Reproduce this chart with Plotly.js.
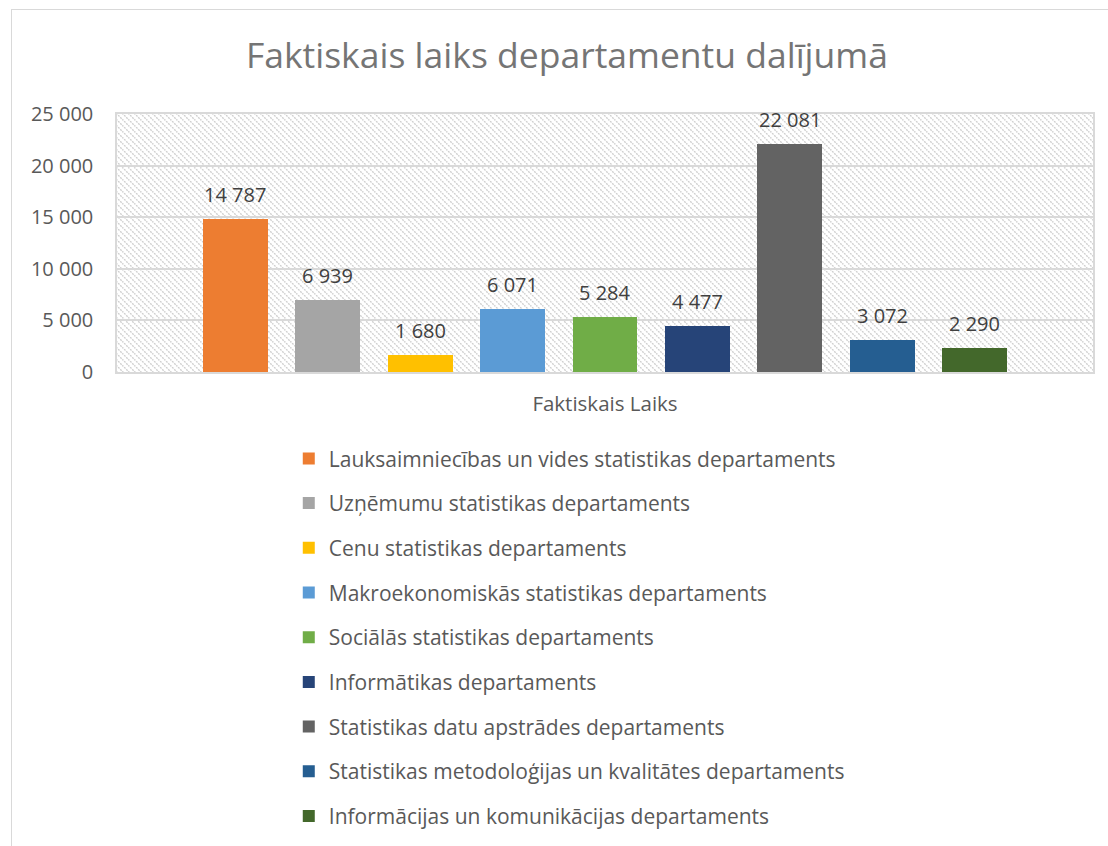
<!DOCTYPE html>
<html>
<head>
<meta charset="utf-8">
<script src="https://cdn.plot.ly/plotly-3.0.1.min.js"></script>
<style>
  html, body { margin: 0; padding: 0; background: #ffffff; }
  #wrap { position: relative; width: 1108px; height: 846px; overflow: hidden; }
  #chart { position: absolute; left: 0; top: 0; width: 1108px; height: 846px; }
  #frame { position: absolute; left: 11px; top: 9px; width: 1108px; height: 846px;
           border-left: 1.5px solid #d9d9d9; border-top: 1.5px solid #d9d9d9; pointer-events: none; }
</style>
</head>
<body>
<div id="wrap">
  <div id="chart"></div>
  <div id="frame"></div>
</div>
<script>
const departments = [
  "Lauksaimniecības un vides statistikas departaments",
  "Uzņēmumu statistikas departaments",
  "Cenu statistikas departaments",
  "Makroekonomiskās statistikas departaments",
  "Sociālās statistikas departaments",
  "Informātikas departaments",
  "Statistikas datu apstrādes departaments",
  "Statistikas metodoloģijas un kvalitātes departaments",
  "Informācijas un komunikācijas departaments"
];
const hours = [14787, 6939, 1680, 6071, 5284, 4477, 22081, 3072, 2290];
const colors = ["#ED7D31", "#A5A5A5", "#FFC000", "#5B9BD5", "#70AD47", "#264478", "#636363", "#255E91", "#43682B"];
const yTicks = [0, 5000, 10000, 15000, 20000, 25000];
const yTickLabels = ["0", "5 000", "10 000", "15 000", "20 000", "25 000"];
const axisLabel = "Faktiskais Laiks";
const chartTitle = "Faktiskais laiks departamentu dalījumā";

function fmt(v) { return String(v).replace(/\B(?=(\d{3})+(?!\d))/g, " "); }

const FONT = "'Open Sans', 'Noto Sans', sans-serif";

const traces = departments.map((d, i) => ({
  type: "bar",
  name: d,
  x: [d],
  y: [hours[i]],
  width: 0.703,
  marker: { color: colors[i], line: { width: 0 } },
  legendgroup: "g" + i,
  hoverinfo: "y+name"
}));

const annotations = departments.map((d, i) => ({
  x: d, y: hours[i], xref: "x", yref: "y",
  text: fmt(hours[i]), showarrow: false,
  yanchor: "bottom", yshift: 9,
  font: { family: FONT, size: 20, color: "#404040" }
}));

const W = 976, H = 258;
const svg = `<svg xmlns="http://www.w3.org/2000/svg" width="${W}" height="${H}" viewBox="0 0 ${W} ${H}" preserveAspectRatio="none">
<defs><pattern id="p" width="6" height="6" patternUnits="userSpaceOnUse">
<path d="M-1,-1 L7,7 M-1,5 L1,7 M5,-1 L7,1" stroke="#cfcfcf" stroke-width="1.4" stroke-dasharray="2 1"/>
</pattern></defs>
<rect width="${W}" height="${H}" fill="#ffffff"/>
<rect width="${W}" height="${H}" fill="url(#p)"/></svg>`;
const imgSrc = "data:image/svg+xml;charset=utf-8," + encodeURIComponent(svg);

const layout = {
  width: 1108, height: 846,
  margin: { l: 117, r: 15, t: 114, b: 474, autoexpand: false },
  paper_bgcolor: "rgba(0,0,0,0)",
  plot_bgcolor: "rgba(0,0,0,0)",
  title: {
    text: chartTitle,
    font: { family: FONT, size: 35.5, color: "#757575" },
    x: 0.461, xref: "paper", xanchor: "center",
    y: 1, yref: "container", yanchor: "top", pad: { t: 43 }
  },
  showlegend: true,
  legend: {
    orientation: "v",
    x: 0.176, xanchor: "left", xref: "paper",
    y: 0.482, yanchor: "top", yref: "container",
    font: { family: FONT, size: 21, color: "#595959" },
    tracegroupgap: 14.4,
    traceorder: "grouped",
    bgcolor: "rgba(0,0,0,0)"
  },
  xaxis: {
    type: "category",
    range: [-1.28, 9.28],
    showticklabels: false,
    ticks: "",
    showgrid: false,
    showline: true, mirror: true, linecolor: "#d9d9d9", linewidth: 1.5,
    zeroline: false,
    fixedrange: true,
    title: { text: axisLabel, standoff: 24, font: { family: FONT, size: 20.5, color: "#595959" } }
  },
  yaxis: {
    range: [0, 25000],
    tickmode: "array", tickvals: yTicks, ticktext: yTickLabels,
    tickfont: { family: FONT, size: 20, color: "#595959" },
    ticks: "", ticklabelstandoff: 18,
    showgrid: true, gridcolor: "#d9d9d9", gridwidth: 1.5,
    showline: true, mirror: true, linecolor: "#d9d9d9", linewidth: 1.5,
    zeroline: false,
    fixedrange: true
  },
  annotations: annotations,
  images: [{
    source: imgSrc, xref: "paper", yref: "paper",
    x: 0, y: 1, sizex: 1, sizey: 1, sizing: "stretch",
    xanchor: "left", yanchor: "top", layer: "below"
  }],
  bargap: 0
};

Plotly.newPlot("chart", traces, layout, { displayModeBar: false, responsive: false });
</script>
</body>
</html>
